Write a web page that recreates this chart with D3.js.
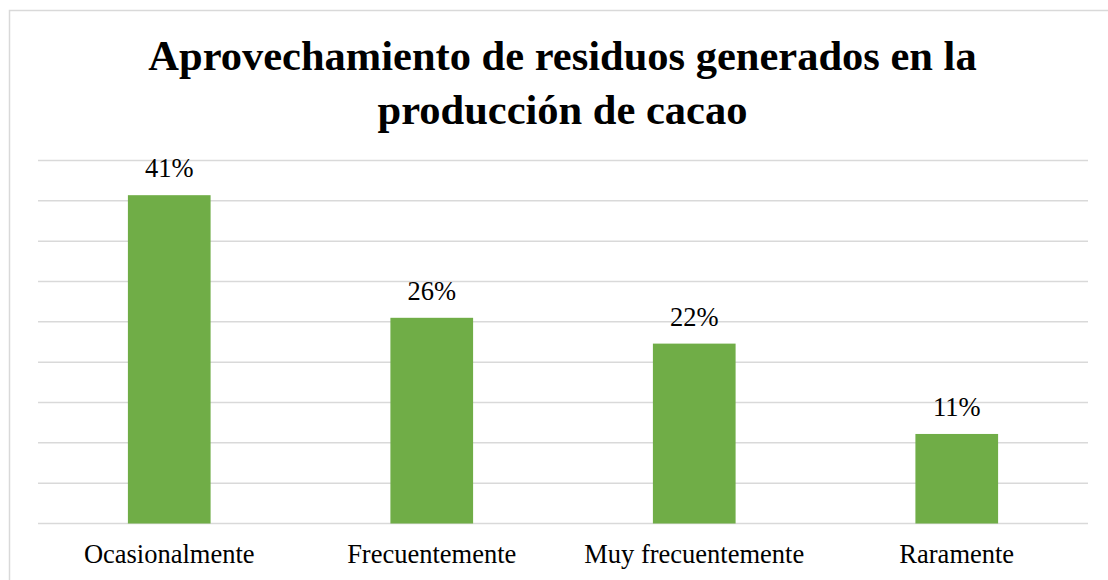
<!DOCTYPE html>
<html>
<head>
<meta charset="utf-8">
<script src="https://cdn.jsdelivr.net/npm/d3@7"></script>
<style>body{margin:0}</style>
</head>
<body>
<script>
// data
const categories = ["Ocasionalmente", "Frecuentemente", "Muy frecuentemente", "Raramente"];
const values = [40.7, 25.5, 22.3, 11.1];
const valueLabels = ["41%", "26%", "22%", "11%"];
const titleLines = ["Aprovechamiento de residuos generados en la", "producción de cacao"];
const yTicks = [0, 5, 10, 15, 20, 25, 30, 35, 40, 45];

const w = 1108, h = 580;
const plot = { left: 38, right: 1088, top: 160.5, bottom: 523.5 };
const font = "Liberation Serif";

const svg = d3.select("body")
  .append("svg")
  .attr("width", w)
  .attr("height", h);

// chart border (runs off the right and bottom edge)
svg.append("rect")
  .attr("x", 9.5)
  .attr("y", 10.5)
  .attr("width", w + 20)
  .attr("height", h + 20)
  .attr("fill", "#fff")
  .attr("stroke", "#d9d9d9")
  .attr("stroke-width", 1.5);

// scales
const xScale = d3.scaleBand()
  .domain(categories)
  .range([plot.left, plot.right])
  .paddingInner(0.685)
  .paddingOuter(0.3425);

const yScale = d3.scaleLinear()
  .domain([0, 45])
  .range([plot.bottom, plot.top]);

// gridlines
svg.append("g")
  .selectAll("line")
  .data(yTicks)
  .enter()
  .append("line")
  .attr("x1", plot.left)
  .attr("x2", plot.right)
  .attr("y1", d => yScale(d))
  .attr("y2", d => yScale(d))
  .attr("stroke", "#d9d9d9")
  .attr("stroke-width", 1.5);

// bars
svg.append("g")
  .selectAll("rect")
  .data(values)
  .enter()
  .append("rect")
  .attr("x", (d, i) => xScale(categories[i]))
  .attr("y", d => yScale(d))
  .attr("width", xScale.bandwidth())
  .attr("height", d => yScale(0) - yScale(d))
  .attr("fill", "#70ad47");

// value labels
svg.append("g")
  .selectAll("text")
  .data(values)
  .enter()
  .append("text")
  .attr("x", (d, i) => xScale(categories[i]) + xScale.bandwidth() / 2)
  .attr("y", d => yScale(d) - 18)
  .attr("text-anchor", "middle")
  .attr("font-family", font)
  .attr("font-size", 26.5)
  .style("font-family", font, "important")
  .attr("fill", "#000")
  .text((d, i) => valueLabels[i]);

// category labels
svg.append("g")
  .selectAll("text")
  .data(categories)
  .enter()
  .append("text")
  .attr("x", d => xScale(d) + xScale.bandwidth() / 2)
  .attr("y", 563)
  .attr("text-anchor", "middle")
  .attr("font-family", font)
  .attr("font-size", 26.5)
  .style("font-family", font, "important")
  .attr("fill", "#000")
  .text(d => d);

// title
svg.append("g")
  .selectAll("text")
  .data(titleLines)
  .enter()
  .append("text")
  .attr("x", 562.5)
  .attr("y", (d, i) => 69.5 + i * 54)
  .attr("text-anchor", "middle")
  .attr("font-family", font)
  .attr("font-size", 42.5)
  .attr("font-weight", "bold")
  .style("font-family", font, "important")
  .attr("fill", "#000")
  .text(d => d);
</script>
</body>
</html>
